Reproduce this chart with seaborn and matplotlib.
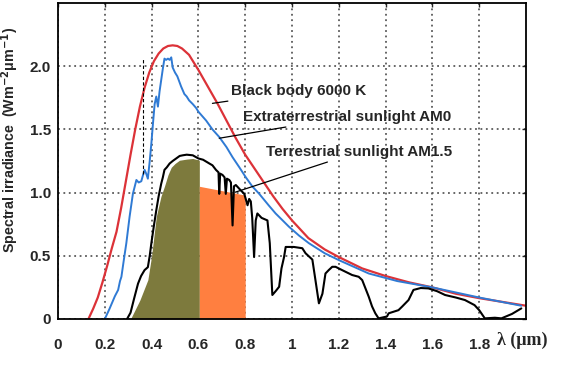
import matplotlib
matplotlib.use('Agg')
import matplotlib.pyplot as plt
import seaborn as sns
import numpy as np

# black body 6000 K (red)
bb_x = [0.13, 0.15, 0.17, 0.19, 0.21, 0.23, 0.25, 0.27, 0.29, 0.31, 0.33, 0.35, 0.37, 0.39,
        0.41, 0.43, 0.45, 0.47, 0.49, 0.51, 0.53, 0.56, 0.60, 0.64, 0.68, 0.72, 0.76, 0.80,
        0.84, 0.88, 0.92, 0.96, 1.00, 1.07, 1.14, 1.20, 1.30, 1.40, 1.50, 1.60, 1.70, 1.80,
        1.90, 2.00]
bb_y = [0.0, 0.08, 0.17, 0.29, 0.42, 0.56, 0.69, 0.88, 1.09, 1.30, 1.50, 1.68, 1.83, 1.95,
        2.04, 2.10, 2.14, 2.16, 2.165, 2.16, 2.14, 2.09, 1.97, 1.84, 1.71, 1.57, 1.43, 1.30,
        1.19, 1.08, 0.97, 0.87, 0.78, 0.64, 0.55, 0.49, 0.40, 0.34, 0.29, 0.25, 0.20, 0.165,
        0.135, 0.105]

# extraterrestrial sunlight AM0 (blue)
am0_x = [0.20, 0.22, 0.243, 0.257, 0.265, 0.271, 0.28, 0.292, 0.306, 0.32, 0.335, 0.345,
         0.356, 0.362, 0.37, 0.377, 0.384, 0.392, 0.399, 0.406, 0.413, 0.42, 0.427, 0.434,
         0.441, 0.448, 0.455, 0.462, 0.47, 0.477, 0.484, 0.49, 0.50, 0.51, 0.526, 0.54, 0.55,
         0.56, 0.576, 0.59, 0.60, 0.633, 0.66, 0.689, 0.72, 0.746, 0.775, 0.803, 0.83, 0.86,
         0.90, 0.93, 0.96, 0.987, 1.03, 1.072, 1.14, 1.20, 1.328, 1.45, 1.60, 1.80, 1.98]
am0_y = [0.0, 0.08, 0.18, 0.23, 0.30, 0.334, 0.45, 0.60, 0.81, 0.99, 1.10, 1.08,
         1.09, 1.13, 1.18, 1.15, 1.11, 1.25, 1.39, 1.55, 1.70, 1.76, 1.68, 1.80,
         1.89, 1.98, 2.06, 2.05, 2.06, 2.05, 2.07, 1.99, 1.95, 1.92, 1.84, 1.78, 1.76,
         1.73, 1.70, 1.67, 1.64, 1.57, 1.50, 1.44, 1.36, 1.28, 1.20, 1.12, 1.05, 0.99,
         0.90, 0.835, 0.78, 0.73, 0.66, 0.60, 0.52, 0.466, 0.36, 0.30, 0.25, 0.17, 0.105]

# terrestrial sunlight AM1.5 (black)
am15_x = [0.295, 0.31, 0.325, 0.342, 0.355, 0.37, 0.384, 0.392, 0.399, 0.41, 0.42, 0.43,
          0.441, 0.448, 0.455, 0.465, 0.477, 0.49, 0.505, 0.52, 0.533, 0.55, 0.576, 0.60,
          0.62, 0.647, 0.66, 0.675, 0.686, 0.689, 0.693, 0.703, 0.712, 0.717, 0.722, 0.732,
          0.739, 0.746, 0.752, 0.76, 0.78, 0.796, 0.81, 0.817, 0.824, 0.83, 0.838, 0.845,
          0.852, 0.87, 0.895, 0.905, 0.916, 0.93, 0.945, 0.955, 0.966, 0.973, 1.008, 1.044,
          1.058, 1.087, 1.10, 1.115, 1.13, 1.143, 1.157, 1.172, 1.186, 1.214, 1.257, 1.285,
          1.30, 1.328, 1.342, 1.356, 1.37, 1.406, 1.413, 1.455, 1.47, 1.498, 1.519, 1.55,
          1.583, 1.62, 1.654, 1.70, 1.739, 1.78, 1.80, 1.824, 1.867, 1.895, 1.94, 1.98]
am15_y = [0.0, 0.05, 0.16, 0.28, 0.34, 0.387, 0.41, 0.50, 0.60, 0.74, 0.86, 0.97,
          1.07, 1.12, 1.18, 1.20, 1.23, 1.25, 1.27, 1.29, 1.295, 1.30, 1.295, 1.27,
          1.26, 1.23, 1.216, 1.18, 1.16, 0.99, 1.15, 1.14, 1.12, 0.99, 1.11, 1.10,
          1.08, 0.74, 1.05, 1.06, 1.02, 0.99, 0.90, 0.95, 0.93, 0.80, 0.49, 0.78,
          0.835, 0.80, 0.78, 0.60, 0.19, 0.22, 0.255, 0.40, 0.49, 0.57, 0.57, 0.56,
          0.52, 0.47, 0.31, 0.124, 0.20, 0.36, 0.387, 0.413, 0.413, 0.387, 0.348, 0.334,
          0.308, 0.176, 0.10, 0.045, 0.005, 0.02, 0.045, 0.07, 0.097, 0.15, 0.23, 0.245,
          0.242, 0.22, 0.19, 0.17, 0.15, 0.11, 0.07, 0.005, 0.01, 0.005, 0.04, 0.084]

# filled bands
olive_x = [0.31, 0.35, 0.384, 0.40, 0.42, 0.44, 0.455, 0.47, 0.484, 0.50, 0.519, 0.55, 0.576, 0.604]
olive_y = [0.0, 0.15, 0.31, 0.50, 0.81, 0.97, 1.05, 1.14, 1.20, 1.23, 1.256, 1.265, 1.27, 1.256]
orange_x = [0.604, 0.80]
orange_y = [1.05, 0.98]

dash_x = 0.363
dash_y = [1.15, 2.06]

xticks = [0, 0.2, 0.4, 0.6, 0.8, 1.0, 1.2, 1.4, 1.6, 1.8]
xticklabels = ['0', '0.2', '0.4', '0.6', '0.8', '1', '1.2', '1.4', '1.6', '1.8']
yticks = [0, 0.5, 1.0, 1.5, 2.0]
yticklabels = ['0', '0.5', '1.0', '1.5', '2.0']

sns.set_style('white')
plt.rcParams['font.family'] = ['Liberation Sans', 'DejaVu Sans']
plt.rcParams['font.weight'] = 'bold'

fig = plt.figure(figsize=(5.64, 3.72), dpi=100)
ax = fig.add_axes([58 / 564, 53 / 372, 468 / 564, 316 / 372])

ax.set_xlim(0, 2.0)
ax.set_ylim(0, 2.5)
ax.set_xticks(xticks)
ax.set_xticklabels(xticklabels)
ax.set_yticks(yticks)
ax.set_yticklabels(yticklabels)

# dotted grid
ax.grid(True, color='#5a5a5a', linestyle=(0, (1, 2)), linewidth=1.3)
ax.set_axisbelow(True)

ax.fill_between(olive_x, olive_y, 0, color='#7d7a3d', linewidth=0)
ax.fill_between(orange_x, orange_y, 0, color='#ff7f40', linewidth=0)

sns.lineplot(x=bb_x, y=bb_y, ax=ax, color='#dc3238', linewidth=1.6, sort=False)
sns.lineplot(x=am0_x, y=am0_y, ax=ax, color='#2f7ad4', linewidth=1.4, sort=False)
sns.lineplot(x=am15_x, y=am15_y, ax=ax, color='black', linewidth=1.5, sort=False)
ax.plot([dash_x, dash_x], dash_y, color='black', linestyle=(0, (3, 2)), linewidth=0.8)

ax.tick_params(direction='in', length=3, top=True, right=True, labelsize=11,
               width=1, pad=5)
ax.tick_params(axis='x', pad=14)
for lab in ax.get_xticklabels() + ax.get_yticklabels():
    lab.set_fontweight('bold')
for sp in ax.spines.values():
    sp.set_color('black')
    sp.set_linewidth(1.3)

txt = dict(fontsize=11, fontweight='bold', va='center', ha='left')
arrow = dict(arrowstyle='-', color='black', linewidth=0.9, shrinkA=0, shrinkB=0)
ax.annotate('Black body 6000 K', xy=(0.66, 1.706), xytext=(0.74, 1.805),
            arrowprops=arrow, **txt)
ax.annotate('Extraterrestrial sunlight AM0', xy=(0.689, 1.43), xytext=(0.79, 1.60),
            arrowprops=arrow, **txt)
ax.annotate('Terrestrial sunlight AM1.5', xy=(0.757, 1.003), xytext=(0.888, 1.323),
            arrowprops=arrow, **txt)

fig.text(0.018, 0.624, 'Spectral irradiance  (Wm$^{-2}$μm$^{-1}$)', rotation=90,
         fontsize=10.3, fontweight='bold', ha='center', va='center')
fig.text(0.881, 0.086, 'λ (μm)', family=['Liberation Serif', 'DejaVu Serif'],
         fontsize=13, fontweight='bold', ha='left', va='center')

fig.savefig('out.png', dpi=100)
